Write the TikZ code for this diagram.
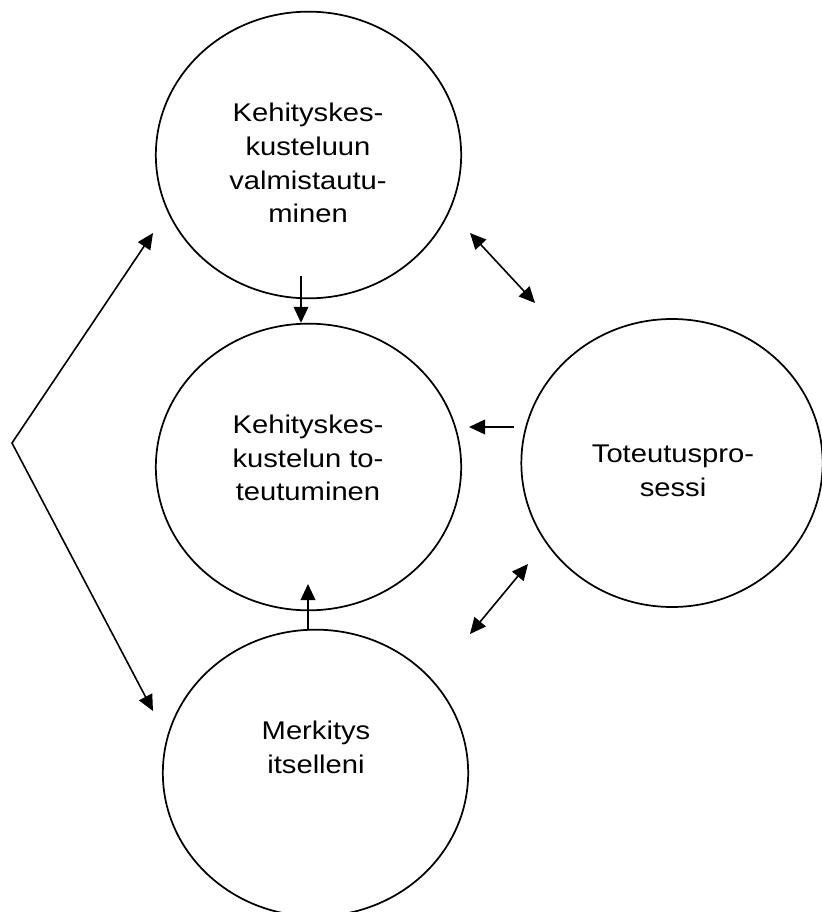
\documentclass[tikz,border=0pt]{standalone}
\usepackage{fontspec}
\setmainfont{Liberation Sans}[FakeStretch=1.14]
\usetikzlibrary{arrows.meta,shapes.geometric}

\begin{document}
\begin{tikzpicture}[x=0.75pt, y=-0.75pt, line join=round,
  phase/.style={draw, ellipse, line width=1.3pt, inner sep=0pt,
    minimum width=229pt, minimum height=215pt},
  phasetext/.style={align=center, inner sep=0pt, font=\fontsize{19.2}{25.3}\selectfont},
  link/.style={line width=1.2pt, -{Triangle[length=12pt,width=11pt]}},
  twoway/.style={line width=1.2pt, {Triangle[length=12pt,width=11pt]}-{Triangle[length=12pt,width=11pt]}}]
\useasboundingbox (0,0) rectangle (821,912);
% Phases - ellipses
\node[phase] (prep) at (308.5,155) {};
\node[phase] (real) at (308.5,467) {};
\node[phase] (mean) at (315.5,773) {};
\node[phase, minimum width=226pt, minimum height=216pt] (proc) at (672,463) {};
% Texts
\node[phasetext] (preptext) at (308,163) {Kehityskes-\\kusteluun\\valmistautu-\\minen};
\node[phasetext] (realtext) at (308,458) {Kehityskes-\\kustelun to-\\teutuminen};
\node[phasetext] (meantext) at (316,747) {Merkitys\\itselleni};
\node[phasetext] (proctext) at (673,471) {Toteutuspro-\\sessi};
% Free ends of the arrows
\coordinate (V) at (12,443);
\coordinate (Vup) at (153,233);
\coordinate (Vdown) at (153,711);
\coordinate (prepdown) at (301,276);
\coordinate (meanup) at (308,584);
\coordinate (procleft) at (514,427);
\coordinate (realright) at (469,427);
\coordinate (upA) at (470,233);
\coordinate (upB) at (535,303);
\coordinate (lowA) at (528,564);
\coordinate (lowB) at (470,634);
% Arrows
\draw[twoway, line join=miter] (Vup) -- (V) -- (Vdown);
\draw[link] (prepdown) -- (prepdown |- real.north);
\draw[link] (meanup |- mean.north) -- (meanup);
\draw[link] (procleft) -- (realright);
\draw[twoway] (upA) -- (upB);
\draw[twoway] (lowA) -- (lowB);
\end{tikzpicture}
\end{document}
